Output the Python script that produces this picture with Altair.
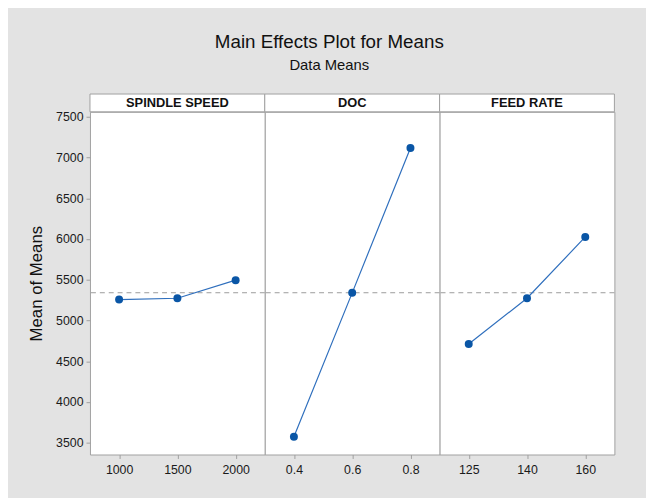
import altair as alt
import pandas as pd

# ---- data ----
factors = ["SPINDLE SPEED", "DOC", "FEED RATE"]
spindle_levels = ["1000", "1500", "2000"]
spindle_means = [5257, 5273, 5495]
doc_levels = ["0.4", "0.6", "0.8"]
doc_means = [3573, 5339, 7116]
feed_levels = ["125", "140", "160"]
feed_means = [4712, 5273, 6025]
y_ticks = [3500, 4000, 4500, 5000, 5500, 6000, 6500, 7000, 7500]

all_means = spindle_means + doc_means + feed_means
grand_mean = sum(all_means) / len(all_means)

FONT = "Liberation Sans, Arial, sans-serif"
W, H = 177, 347
STRIP = 18
GRID = "#a0a0a0"
PT = "#0a56a6"
LN = "#2f6fbd"

yscale = alt.Scale(domain=[3355, 7561], nice=False, zero=False)

panels = []
for i, (name, levels, means) in enumerate(
    [(factors[0], spindle_levels, spindle_means),
     (factors[1], doc_levels, doc_means),
     (factors[2], feed_levels, feed_means)]):
    df = pd.DataFrame({"level": levels, "mean": means})
    xenc = alt.X("level:O", sort=levels,
                 scale=alt.Scale(type="point", padding=0.5),
                 axis=alt.Axis(title=None, labelAngle=0, domain=False,
                               tickColor=GRID, tickSize=4, labelPadding=5,
                               labelFont=FONT, labelFontSize=12.5,
                               labelColor="#1a1a1a"))
    if i == 0:
        yaxis = alt.Axis(title="Mean of Means", values=y_ticks, format="d",
                         domain=False, grid=False, tickColor=GRID, tickSize=4,
                         labelPadding=3, labelFont=FONT, labelFontSize=12.5,
                         labelColor="#1a1a1a",
                         titleFont=FONT, titleFontSize=17, titleFontWeight="normal",
                         titleColor="#111", titlePadding=10)
    else:
        yaxis = None
    yenc = alt.Y("mean:Q", scale=yscale, axis=yaxis)

    base = alt.Chart(df)
    rule = alt.Chart(pd.DataFrame({"mean": [grand_mean]})).mark_rule(
        color="#9a9a9a", strokeDash=[5, 4], strokeWidth=1).encode(
        y=alt.Y("mean:Q", scale=yscale, axis=yaxis))
    line = base.mark_line(color=LN, strokeWidth=1.2).encode(x=xenc, y=yenc)
    pts = base.mark_circle(size=65, color=PT, opacity=1).encode(x=xenc, y=yenc)
    sdf = pd.DataFrame({"f": [name]})
    strip = alt.Chart(sdf).mark_rect(fill="white", stroke=GRID, strokeWidth=1).encode(
        x=alt.value(0), x2=alt.value(W), y=alt.value(-STRIP), y2=alt.value(0))
    stext = alt.Chart(sdf).mark_text(font=FONT, fontSize=13, fontWeight="bold",
                                     color="#111", baseline="middle").encode(
        text="f:N", x=alt.value(W / 2), y=alt.value(-STRIP / 2 + 0.5))
    panels.append(alt.layer(rule, line, pts, strip, stext).properties(width=W, height=H))

chart = alt.hconcat(*panels, spacing=0, bounds="flush").properties(
    title=alt.TitleParams(text="Main Effects Plot for Means", subtitle="Data Means",
                          font=FONT, fontSize=19, fontWeight="normal", color="#111",
                          subtitleFont=FONT, subtitleFontSize=15, subtitleColor="#111",
                          subtitlePadding=7, anchor="middle", dx=8, offset=20),
    background="#e3e3e3",
    padding={"left": 19, "top": 22, "right": 31, "bottom": 25},
).configure_view(stroke=GRID, strokeWidth=1, fill="white")

chart.save("out.html", embed_options={"renderer": "svg", "actions": False})
